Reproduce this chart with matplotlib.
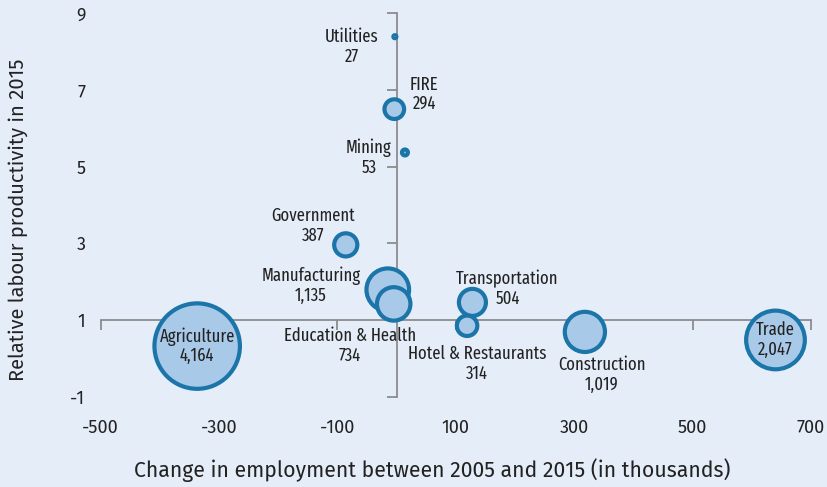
import matplotlib
matplotlib.use("Agg")
import matplotlib.pyplot as plt
import numpy as np

# ---- data ----
sectors = ["Utilities", "FIRE", "Mining", "Government", "Manufacturing",
           "Education & Health", "Transportation", "Hotel & Restaurants",
           "Construction", "Trade", "Agriculture"]
emp_change = [-3, -4, 14, -86, -15, -5, 128, 119, 318, 640, -337]
rel_productivity = [8.39, 6.50, 5.37, 2.96, 1.79, 1.42, 1.46, 0.85, 0.69, 0.48, 0.32]
employment = [27, 294, 53, 387, 1135, 734, 504, 314, 1019, 2047, 4164]
x_ticks = [-500, -300, -100, 100, 300, 500, 700]
y_ticks = [-1, 1, 3, 5, 7, 9]

# label offsets (pixels) of the label block centre relative to bubble centre
label_offsets = {
    "Utilities": (-43, -10), "FIRE": (30, 15), "Mining": (-36, -5),
    "Government": (-33, 19), "Manufacturing": (-77, 4),
    "Education & Health": (-44, -42), "Transportation": (35, 14),
    "Hotel & Restaurants": (10, -38), "Construction": (17, -43),
    "Trade": (0, 0), "Agriculture": (0, 0),
}

COND = ["Fira Sans Extra Condensed", "Fira Sans Condensed", "Roboto Condensed",
        "PT Sans Narrow", "Liberation Sans Narrow", "DejaVu Sans"]
REG = ["Fira Sans", "Open Sans", "Lato", "DejaVu Sans"]
plt.rcParams["font.family"] = REG

BG = "#e5eef8"
EDGE = "#1b75a8"
FILL = "#a9c9e9"
TXT = "#222222"
GRID = "#8c8c8c"

fig = plt.figure(figsize=(8.27, 4.87), dpi=100, facecolor=BG)
rect = [100.7 / 827, 1 - 396.7 / 487, (811 - 100.7) / 827, (396.7 - 13.3) / 487]
ax = fig.add_axes(rect)
ax.set_facecolor(BG)
ax.set_xlim(-500, 700)
ax.set_ylim(-1, 9)

# cross axes at x=0, y=1
for s in ["top", "right"]:
    ax.spines[s].set_visible(False)
ax.spines["left"].set_position(("data", 0))
ax.spines["bottom"].set_position(("data", 1))
for s in ["left", "bottom"]:
    ax.spines[s].set_color(GRID)
    ax.spines[s].set_linewidth(1.3)
ax.set_xticks(x_ticks)
ax.set_yticks(y_ticks)
ax.tick_params(axis="both", direction="out", length=7, width=1.3, color=GRID,
               labelleft=False, labelbottom=False)

lw = 3.0
sizes = [max(np.sqrt(v) - lw, 1.0) ** 2 for v in employment]
ax.scatter(emp_change, rel_productivity, s=sizes, facecolor=FILL,
           edgecolor=EDGE, linewidth=lw, zorder=3)

for name, x, y, v in zip(sectors, emp_change, rel_productivity, employment):
    dx, dy = label_offsets[name]
    ax.annotate(f"{name}\n{v:,}", xy=(x, y), xytext=(dx, dy),
                textcoords="offset pixels", ha="center", va="center",
                multialignment="center", fontsize=13, color=TXT,
                family=COND, linespacing=1.12, zorder=4)

# overlay axes for tick labels at the outer edges
ax2 = fig.add_axes(rect, sharex=ax, sharey=ax)
ax2.patch.set_visible(False)
for s in ax2.spines.values():
    s.set_visible(False)
ax2.tick_params(axis="both", length=0, labelsize=13, labelcolor=TXT)
ax2.tick_params(axis="y", pad=11)
ax2.tick_params(axis="x", pad=16)
ax2.set_yticklabels([str(t) for t in y_ticks])
ax2.set_xticklabels([str(t) for t in x_ticks])

fig.text(432 / 827, 1 - 470 / 487,
         "Change in employment between 2005 and 2015 (in thousands)",
         fontsize=15.3, color=TXT, ha="center", va="center")
fig.text(18 / 827, 1 - 220 / 487, "Relative labour productivity in 2015",
         fontsize=14.5, color=TXT, ha="center", va="center", rotation=90)

fig.savefig("out.png", dpi=100, facecolor=BG)
